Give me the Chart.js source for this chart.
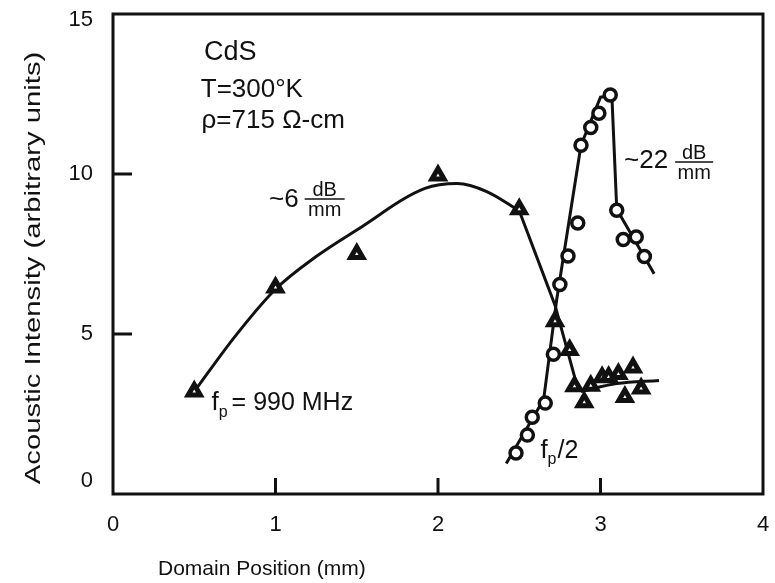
<!DOCTYPE html>
<html lang="en">
<head>
    <meta charset="UTF-8">
    <title>Acoustic Intensity vs Domain Position</title>
    <script src="https://cdn.jsdelivr.net/npm/chart.js"></script>
    <style>
        body {
            margin: 0;
            padding: 0;
            background: #ffffff;
        }
        #chart {
            display: block;
        }
    </style>
</head>
<body>
    <canvas id="chart" width="775" height="583"></canvas>

    <script>
        // axis ticks
        const xTicks = [0, 1, 2, 3, 4];
        const yTicks = [0, 5, 10, 15];

        // measured points, f_p = 990 MHz (triangles)
        const fpX = [0.5, 1.0, 1.5, 2.0, 2.5, 2.72, 2.81, 2.84, 2.9, 2.94, 3.01, 3.05, 3.11, 3.15, 3.2, 3.25];
        const fpY = [3.2, 6.45, 7.5, 9.95, 8.9, 5.4, 4.5, 3.37, 2.87, 3.38, 3.65, 3.66, 3.75, 3.03, 3.95, 3.3];

        // measured points, f_p/2 (circles)
        const halfX = [2.48, 2.55, 2.58, 2.66, 2.71, 2.75, 2.8, 2.86, 2.88, 2.94, 2.99, 3.06, 3.1, 3.14, 3.22, 3.27];
        const halfY = [1.28, 1.84, 2.4, 2.84, 4.37, 6.55, 7.44, 8.47, 10.9, 11.45, 11.9, 12.47, 8.87, 7.95, 8.03, 7.42];

        // hand drawn fit lines
        const fpCurveX = [0.5, 0.75, 1.0, 1.25, 1.5, 1.92, 2.12, 2.3, 2.5];
        const fpCurveY = [3.2, 4.92, 6.4, 7.42, 8.25, 9.55, 9.7, 9.45, 8.85];
        const fpDropX = [2.5, 2.72, 2.86];
        const fpDropY = [8.85, 5.9, 3.3];
        const fpFlatX = [2.88, 3.1, 3.36];
        const fpFlatY = [3.2, 3.45, 3.55];
        const halfLineX = [2.42, 2.65, 2.73, 2.88, 3.0, 3.07, 3.1, 3.33];
        const halfLineY = [0.95, 2.95, 6.06, 10.9, 12.4, 12.45, 8.9, 6.88];

        const INK = '#111111';
        const FONT = '"Liberation Sans", Arial, sans-serif';

        function pts(xs, ys) {
            return xs.map((v, i) => ({ x: v, y: ys[i] }));
        }

        function lineSet(xs, ys, smooth) {
            return {
                data: pts(xs, ys),
                showLine: true,
                borderColor: INK,
                borderWidth: 3,
                pointRadius: 0,
                cubicInterpolationMode: smooth ? 'monotone' : 'default',
                tension: 0
            };
        }

        const annotate = {
            id: 'annotate',
            afterDraw(chart) {
                const { ctx, chartArea: a, scales: { x, y } } = chart;
                ctx.save();
                ctx.fillStyle = INK;
                ctx.strokeStyle = INK;

                // frame
                ctx.lineWidth = 3;
                ctx.strokeRect(a.left, a.top, a.right - a.left, a.bottom - a.top);

                // inward tick marks
                yTicks.forEach(v => {
                    if (v <= 0 || v >= 15) return;
                    const py = y.getPixelForValue(v);
                    ctx.beginPath();
                    ctx.moveTo(a.left, py);
                    ctx.lineTo(a.left + 19, py);
                    ctx.stroke();
                });
                xTicks.forEach(v => {
                    if (v <= 0 || v >= 4) return;
                    const px = x.getPixelForValue(v);
                    ctx.beginPath();
                    ctx.moveTo(px, a.bottom);
                    ctx.lineTo(px, a.bottom - 16);
                    ctx.stroke();
                });

                // tick labels
                ctx.font = '22px ' + FONT;
                ctx.textAlign = 'right';
                ctx.textBaseline = 'middle';
                yTicks.forEach(v => {
                    let py = y.getPixelForValue(v);
                    py = Math.min(Math.max(py, a.top + 6), a.bottom - 13);
                    ctx.fillText(String(v), a.left - 20, py);
                });
                ctx.textAlign = 'center';
                xTicks.forEach(v => {
                    ctx.fillText(String(v), x.getPixelForValue(v), a.bottom + 31);
                });

                // axis titles
                ctx.font = '21px ' + FONT;
                ctx.textAlign = 'left';
                ctx.textBaseline = 'alphabetic';
                ctx.fillText('Domain Position (mm)', 158, 575);
                ctx.save();
                ctx.translate(40, 268);
                ctx.rotate(-Math.PI / 2);
                ctx.scale(1.33, 1);
                ctx.font = '22px ' + FONT;
                ctx.textAlign = 'center';
                ctx.fillText('Acoustic Intensity (arbitrary units)', 0, 0);
                ctx.restore();

                const tx = v => x.getPixelForValue(v);
                const ty = v => y.getPixelForValue(v);

                // draw pieces left to right from a data-space anchor
                function run(dx, dy, pieces) {
                    let px = tx(dx);
                    const py = ty(dy);
                    ctx.textAlign = 'left';
                    ctx.textBaseline = 'alphabetic';
                    pieces.forEach(p => {
                        if (p.frac) {
                            const w = p.w;
                            ctx.lineWidth = 1.5;
                            ctx.beginPath();
                            ctx.moveTo(px, py - p.bar);
                            ctx.lineTo(px + w, py - p.bar);
                            ctx.stroke();
                            ctx.font = '20px ' + FONT;
                            ctx.textAlign = 'center';
                            ctx.fillText('dB', px + w / 2, py - p.bar - 3);
                            ctx.textBaseline = 'top';
                            ctx.fillText('mm', px + w / 2, py - p.bar + 2);
                            ctx.textAlign = 'left';
                            ctx.textBaseline = 'alphabetic';
                            px += w;
                            return;
                        }
                        ctx.font = p.size + 'px ' + FONT;
                        ctx.fillText(p.t, px, py + (p.dy || 0));
                        px += ctx.measureText(p.t).width + (p.gap || 0);
                    });
                }

                // sample info
                run(0.56, 13.56, [{ t: 'CdS', size: 27 }]);
                run(0.54, 12.4, [{ t: 'T=300°K', size: 26 }]);
                run(0.545, 11.45, [{ t: 'ρ=715 Ω-cm', size: 26 }]);

                // attenuation labels
                run(0.96, 8.97, [{ t: '~6', size: 26, gap: 6 }, { frac: true, w: 40, bar: 8 }]);
                run(3.145, 10.19, [{ t: '~22', size: 26, gap: 7 }, { frac: true, w: 38, bar: 6 }]);

                // frequency labels
                run(0.606, 2.625, [
                    { t: 'f', size: 26 },
                    { t: 'p', size: 16, dy: 7, gap: 4 },
                    { t: '= 990 MHz', size: 25 }
                ]);
                run(2.63, 1.125, [
                    { t: 'f', size: 26 },
                    { t: 'p', size: 16, dy: 6, gap: 1 },
                    { t: '/2', size: 25 }
                ]);

                ctx.restore();
            }
        };

        new Chart(document.getElementById('chart'), {
            type: 'scatter',
            data: {
                datasets: [
                    {
                        data: pts(fpX, fpY),
                        pointStyle: 'triangle',
                        pointRadius: 7,
                        borderWidth: 5,
                        borderColor: INK,
                        backgroundColor: '#ffffff'
                    },
                    {
                        data: pts(halfX, halfY),
                        pointStyle: 'circle',
                        pointRadius: 6,
                        borderWidth: 3.5,
                        borderColor: INK,
                        backgroundColor: '#ffffff'
                    },
                    lineSet(fpCurveX, fpCurveY, true),
                    lineSet(fpDropX, fpDropY),
                    lineSet(fpFlatX, fpFlatY, true),
                    lineSet(halfLineX, halfLineY)
                ]
            },
            options: {
                responsive: false,
                animation: false,
                layout: { padding: { top: 14, right: 2, left: 0, bottom: 0 } },
                plugins: {
                    legend: { display: false },
                    tooltip: { enabled: false }
                },
                scales: {
                    x: {
                        type: 'linear',
                        min: 0,
                        max: 4,
                        ticks: { display: false },
                        grid: { display: false },
                        border: { display: false },
                        afterFit: s => { s.height = 89; }
                    },
                    y: {
                        min: 0,
                        max: 15,
                        ticks: { display: false },
                        grid: { display: false },
                        border: { display: false },
                        afterFit: s => { s.width = 113; }
                    }
                }
            },
            plugins: [annotate]
        });
    </script>
</body>
</html>
